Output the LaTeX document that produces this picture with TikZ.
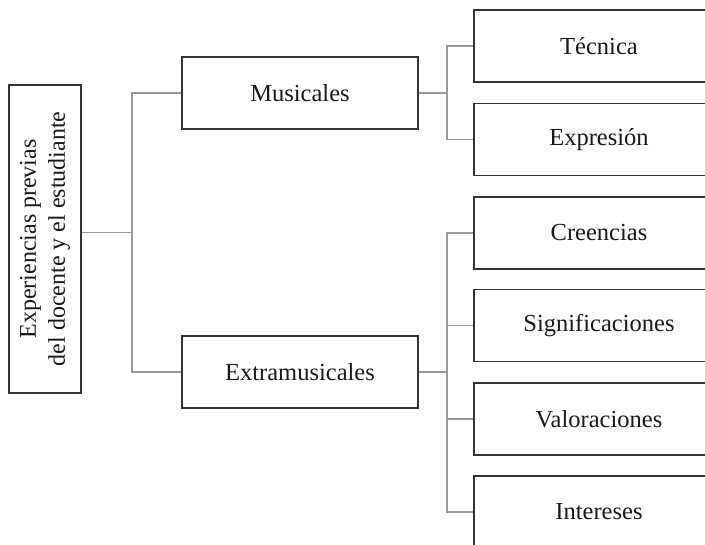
\documentclass[tikz,border=0pt]{standalone}
\usepackage{fontspec}
\setmainfont{Liberation Serif}
\begin{document}
\begin{tikzpicture}[x=1pt,y=-1pt,
  box/.style={draw=black!80, line width=1.1pt, fill=white, minimum height=72pt, inner sep=0pt,
    font=\fontsize{24.5}{29}\selectfont, text=black!90},
  rbox/.style={box, minimum width=250pt},
  mbox/.style={box, minimum width=236pt},
  conn/.style={draw=black!40, line width=1.1pt}]
\useasboundingbox (0,0) rectangle (705,545);
\clip (0,0) rectangle (705,545);
\node[box, rotate=90, minimum width=308pt, minimum height=72pt, align=center,
  font=\fontsize{24}{29}\selectfont] (root) at (45,239)
  {Experiencias previas\\del docente y el estudiante};
\node[mbox] (mus) at (300,93) {Musicales};
\node[mbox] (ext) at (300,372) {Extramusicales};
\node[rbox] (tec) at (599,46) {Técnica};
\node[rbox] (exp) at (599,139.5) {Expresión};
\node[rbox] (cre) at (599,233) {Creencias};
\node[rbox] (sig) at (599,325.5) {Significaciones};
\node[rbox] (val) at (599,419) {Valoraciones};
\node[rbox] (int) at (599,512) {Intereses};
\coordinate (j1) at (132,232.5);
\coordinate (j2) at (447,93);
\coordinate (j3) at (447,372);
\draw[conn] (j1 -| root.south) -- (j1);
\draw[conn] (mus.west) -| (j1) |- (ext.west);
\draw[conn] (mus.east) -- (j2);
\draw[conn] (tec.west) -| (j2) |- (exp.west);
\draw[conn] (ext.east) -- (j3);
\draw[conn] (cre.west) -| (j3) |- (int.west);
\draw[conn] (sig.west) -- (sig.west -| j3);
\draw[conn] (val.west) -- (val.west -| j3);
\end{tikzpicture}
\end{document}
